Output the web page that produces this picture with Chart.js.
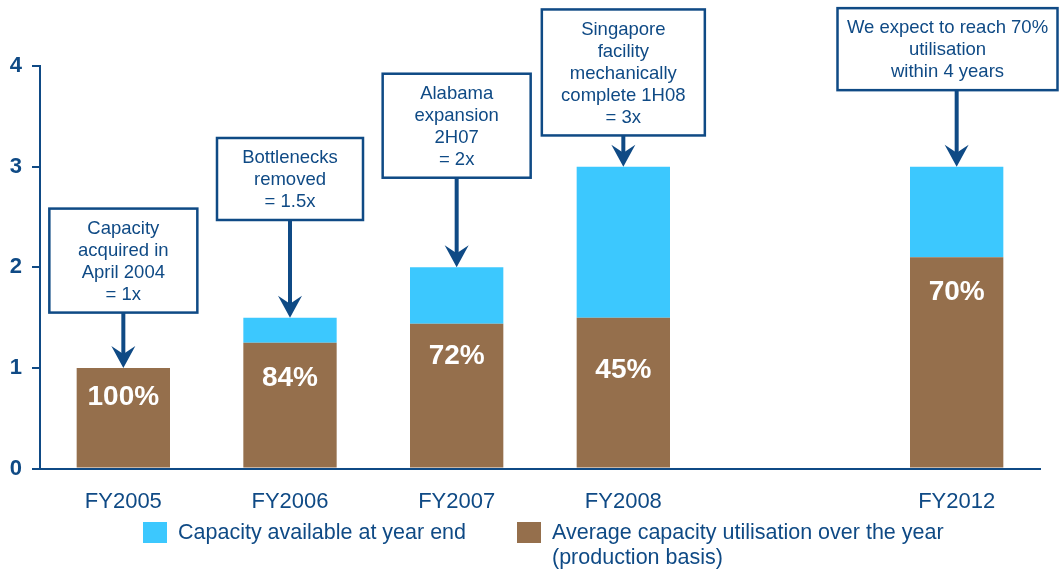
<!DOCTYPE html>
<html lang="en">
<head>
<meta charset="UTF-8">
<title>Capacity and utilisation</title>
<script src="https://cdn.jsdelivr.net/npm/chart.js"></script>
<style>
  html, body { margin: 0; padding: 0; background: #fff; }
  #wrap { width: 1059px; height: 574px; }
</style>
</head>
<body>
<div id="wrap"><canvas id="chartCanvas"></canvas></div>
<script>
// data (empty slot between FY2008 and FY2012)
const years = ['FY2005', 'FY2006', 'FY2007', 'FY2008', '', 'FY2012'];
const capacity = [1, 1.5, 2, 3, null, 3];
const utilised = [1, 1.25, 1.44, 1.5, null, 2.1];
const utilLabels = ['100%', '84%', '72%', '45%', '', '70%'];
const callouts = [
    ['Capacity', 'acquired in', 'April 2004', '= 1x'],
    ['Bottlenecks', 'removed', '= 1.5x'],
    ['Alabama', 'expansion', '2H07', '= 2x'],
    ['Singapore', 'facility', 'mechanically', 'complete 1H08', '= 3x'],
    null,
    ['We expect to reach 70%', 'utilisation', 'within 4 years']
];
const capacityName = ['Capacity available at year end'];
const utilName = ['Average capacity utilisation over the year', '(production basis)'];

const FONT = '"Liberation Sans", Arial, sans-serif';
const NAVY = '#0f4a85';
const CYAN = '#3cc8fe';
const BROWN = '#956f4c';

// layout of the callouts: bottom edge of each box (y units), box width (px); label drop below bar top
const boxBase = [1.55, 2.47, 2.89, 3.31, null, 3.76];
const boxWidth = [148, 146, 148, 163, 0, 220];
const labelDrop = [29, 35, 33, 53, 0, 35];

const spare = capacity.map((c, i) => c == null ? null : +(c - utilised[i]).toFixed(2));

const calloutPlugin = {
    id: 'callouts',
    afterDatasetsDraw(chart) {
        const { ctx, scales: { x, y } } = chart;
        ctx.save();
        ctx.textAlign = 'center';
        ctx.textBaseline = 'middle';

        // percentages in the brown bars
        ctx.font = 'bold 28px ' + FONT;
        ctx.fillStyle = '#ffffff';
        utilLabels.forEach((t, i) => {
            if (!t) return;
            ctx.fillText(t, x.getPixelForValue(i), y.getPixelForValue(utilised[i]) + labelDrop[i]);
        });

        // boxes with arrows
        ctx.font = '18.5px ' + FONT;
        callouts.forEach((lines, i) => {
            if (!lines) return;
            const cx = x.getPixelForValue(i);
            const tipY = y.getPixelForValue(capacity[i]);
            const bottom = y.getPixelForValue(boxBase[i]);
            const h = lines.length * 22 + 16;
            const w = boxWidth[i];
            let left = Math.min(cx - w / 2, chart.width - w - 1.5);
            ctx.fillStyle = '#ffffff';
            ctx.fillRect(left, bottom - h, w, h);
            ctx.lineWidth = 2.5;
            ctx.strokeStyle = NAVY;
            ctx.strokeRect(left, bottom - h, w, h);
            ctx.fillStyle = NAVY;
            lines.forEach((l, k) => ctx.fillText(l, left + w / 2, bottom - h + 20 + k * 22));

            ctx.lineWidth = 4;
            ctx.beginPath();
            ctx.moveTo(cx, bottom);
            ctx.lineTo(cx, tipY - 12);
            ctx.stroke();
            ctx.beginPath();
            ctx.moveTo(cx, tipY);
            ctx.lineTo(cx - 12, tipY - 22);
            ctx.lineTo(cx, tipY - 14);
            ctx.lineTo(cx + 12, tipY - 22);
            ctx.closePath();
            ctx.fill();
        });
        ctx.restore();
    },
    afterDraw(chart) {
        const ctx = chart.ctx;
        ctx.save();
        ctx.font = '21.5px ' + FONT;
        ctx.textAlign = 'left';
        ctx.textBaseline = 'middle';
        const items = [
            { color: chart.data.datasets[1].backgroundColor, lines: capacityName, x: 143 },
            { color: chart.data.datasets[0].backgroundColor, lines: utilName, x: 517 }
        ];
        items.forEach(it => {
            ctx.fillStyle = it.color;
            ctx.fillRect(it.x, 522, 24, 21);
            ctx.fillStyle = NAVY;
            it.lines.forEach((l, k) => ctx.fillText(l, it.x + 35, 533 + k * 25));
        });
        ctx.restore();
    }
};

const ctx = document.getElementById('chartCanvas').getContext('2d');
new Chart(ctx, {
    type: 'bar',
    data: {
        labels: years,
        datasets: [
            { label: utilName.join(' '), data: utilised, backgroundColor: BROWN },
            { label: capacityName[0], data: spare, backgroundColor: CYAN }
        ]
    },
    options: {
        responsive: true,
        maintainAspectRatio: false,
        animation: false,
        layout: { padding: { top: 66, right: 19, bottom: 39, left: 0 } },
        datasets: { bar: { categoryPercentage: 1, barPercentage: 0.56 } },
        plugins: { legend: { display: false }, tooltip: { enabled: false } },
        scales: {
            x: {
                stacked: true,
                grid: { display: true, drawOnChartArea: false, drawTicks: false },
                border: { color: NAVY, width: 2 },
                ticks: { color: NAVY, font: { size: 22, family: FONT }, padding: 20 }
            },
            y: {
                stacked: true,
                min: 0,
                max: 4,
                ticks: { stepSize: 1, color: NAVY, font: { size: 22, weight: 'bold', family: FONT }, padding: 10 },
                grid: { drawOnChartArea: false, tickLength: 8, color: NAVY, lineWidth: 2 },
                border: { color: NAVY, width: 2 },
                afterFit(s) { s.width = 40; }
            }
        }
    },
    plugins: [calloutPlugin]
});
</script>
</body>
</html>
